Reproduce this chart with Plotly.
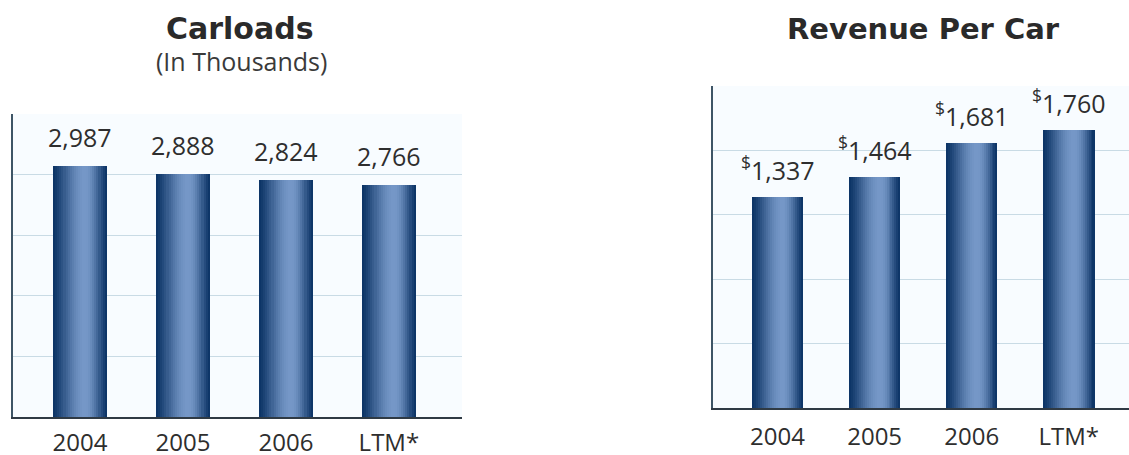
import math
import plotly.graph_objects as go

# Data
categories = ["2004", "2005", "2006", "LTM*"]
carloads = [2987, 2888, 2824, 2766]            # thousands
revenue_per_car = [1337, 1464, 1681, 1760]      # dollars
carload_labels = ["2,987", "2,888", "2,824", "2,766"]
revenue_labels = ["<sup>$</sup>1,337", "<sup>$</sup>1,464", "<sup>$</sup>1,681", "<sup>$</sup>1,760"]
carload_grid = [721, 1442, 2163, 2884]
revenue_grid = [408, 816, 1224, 1632]

W, H = 1129, 455
DARK = (12, 52, 102)
LIGHT = (118, 152, 200)
N_STRIPS = 26
PEAK = 0.6


def strip_color(t):
    if t < PEAK:
        f = math.sin(math.pi / 2 * t / PEAK) ** 1.4
    else:
        f = math.sin(math.pi / 2 * (1 - t) / (1 - PEAK)) ** 1.4
    r, g, b = (int(DARK[k] + (LIGHT[k] - DARK[k]) * f) for k in range(3))
    return f"rgb({r},{g},{b})"


def add_gradient_bars(fig, values, bar_width, xa, ya):
    step = bar_width / N_STRIPS
    for i in range(N_STRIPS):
        t = (i + 0.5) / N_STRIPS
        fig.add_trace(go.Bar(
            x=categories, y=values,
            offset=-bar_width / 2 + i * step,
            width=step * 1.08 if i < N_STRIPS - 1 else step,
            marker=dict(color=strip_color(t), line=dict(width=0)),
            xaxis=xa, yaxis=ya, showlegend=False, hoverinfo="skip",
        ))


fig = go.Figure()
add_gradient_bars(fig, carloads, 0.52, "x", "y")
add_gradient_bars(fig, revenue_per_car, 0.53, "x2", "y2")

# value labels; x given as category index
label_font = dict(family="Open Sans", size=25, color="#2e2e2e")
for i, (v, txt) in enumerate(zip(carloads, carload_labels)):
    fig.add_annotation(x=i, y=v, xref="x", yref="y", text=txt, showarrow=False,
                       yanchor="bottom", yshift=10, font=label_font)
for i, (v, txt) in enumerate(zip(revenue_per_car, revenue_labels)):
    fig.add_annotation(x=i, y=v, xref="x2", yref="y2", text=txt, showarrow=False,
                       yanchor="bottom", yshift=8, font=label_font)

title_font = dict(family="DejaVu Sans", size=29, color="#2a2a2a")
fig.add_annotation(x=240 / W, y=1 - 29 / H, xref="paper", yref="paper", text="<b>Carloads</b>",
                   showarrow=False, yanchor="middle", xanchor="center",
                   font=dict(title_font, size=30))
fig.add_annotation(x=241 / W, y=1 - 61 / H, xref="paper", yref="paper", text="(In Thousands)",
                   showarrow=False, yanchor="middle", xanchor="center",
                   font=dict(family="Open Sans", size=25, color="#3a3a3a"))
fig.add_annotation(x=923 / W, y=1 - 29 / H, xref="paper", yref="paper", text="<b>Revenue Per Car</b>",
                   showarrow=False, yanchor="middle", xanchor="center", font=title_font)

tick_font = dict(family="Open Sans", size=24, color="#2e2e2e")
xcommon = dict(type="category", showline=True, linecolor="#2f3a44", linewidth=2,
               showgrid=False, ticks="", tickfont=tick_font, fixedrange=True,
               automargin=False)
ycommon = dict(showline=True, linecolor="#3e5566", linewidth=2, showticklabels=False,
               ticks="", gridcolor="#c9dbe5", gridwidth=1, zeroline=False, fixedrange=True,
               automargin=False)

fig.update_layout(
    width=W, height=H,
    margin=dict(l=0, r=0, t=0, b=0, autoexpand=False),
    paper_bgcolor="white",
    plot_bgcolor="#f8fcff",
    barmode="overlay",
    bargap=0,
    xaxis=dict(xcommon, domain=[13 / W, 462 / W], range=[-0.65, 3.71], anchor="y",
               ticklabelstandoff=3),
    yaxis=dict(ycommon, domain=[(H - 417) / H, (H - 114) / H], range=[0, 3605],
               tickvals=carload_grid, anchor="x"),
    xaxis2=dict(xcommon, domain=[713 / W, 1.0], range=[-0.665, 3.62], anchor="y2",
                ticklabelstandoff=6),
    yaxis2=dict(ycommon, domain=[(H - 408) / H, (H - 86) / H], range=[0, 2040],
                tickvals=revenue_grid, anchor="x2"),
)

fig.write_html("out.html")
